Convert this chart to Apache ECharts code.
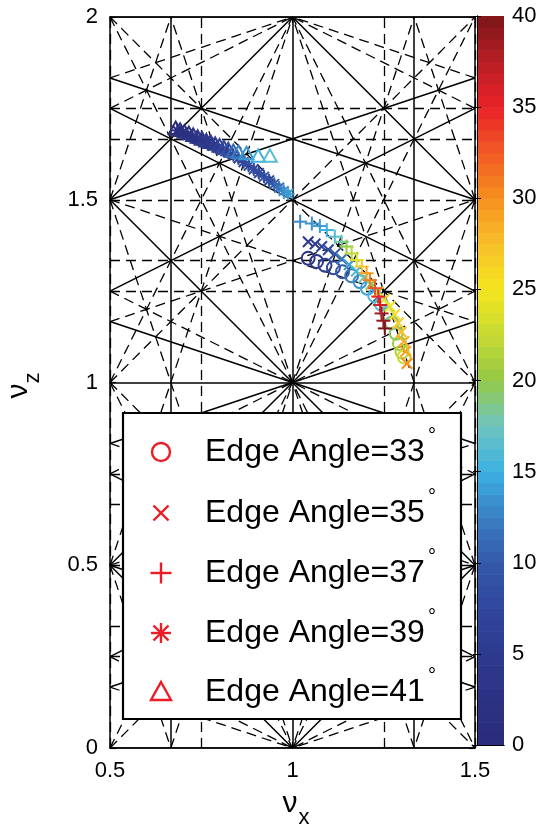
<!DOCTYPE html>
<html>
<head>
<meta charset="utf-8">
<script src="https://cdn.jsdelivr.net/npm/echarts@6/dist/echarts.min.js"></script>
<style>
  html, body { margin: 0; padding: 0; background: #fff; }
  #chart { width: 542px; height: 832px; }
</style>
</head>
<body>
<div id="chart"></div>
<script>
// [nu_x, nu_z, colour value]
const edge33 = [[1.043,1.340,3],[1.066,1.331,4],[1.089,1.321,6],[1.112,1.314,8],[1.137,1.303,10],[1.162,1.292,12],
  [1.185,1.276,13.5],[1.205,1.258,14.5],[1.225,1.238,15.5],[1.243,1.215,16.5],[1.258,1.190,17.5],[1.272,1.163,18.5],
  [1.284,1.135,19.5],[1.293,1.107,20.5],[1.300,1.084,21.5],[1.306,1.070,23]];
const edge35 = [[1.043,1.385,4],[1.062,1.379,5],[1.080,1.372,6.5],[1.098,1.363,8],[1.116,1.352,10],[1.135,1.338,12],
  [1.155,1.322,14],[1.175,1.305,16],[1.195,1.287,18],[1.215,1.268,20],[1.235,1.248,22],[1.252,1.228,23.5],
  [1.267,1.208,24.5],[1.280,1.186,25.5],[1.290,1.163,26.5],[1.298,1.138,27.5],[1.305,1.112,28.5],[1.310,1.085,29],[1.314,1.052,30]];
const edge37 = [[1.021,1.440,13],[1.053,1.435,13.5],[1.075,1.428,14],[1.094,1.417,15],[1.116,1.399,16.5],[1.135,1.385,18],
  [1.148,1.372,20],[1.162,1.353,22],[1.176,1.335,24],[1.190,1.317,27],[1.203,1.299,29],[1.212,1.280,31],
  [1.226,1.258,33],[1.235,1.235,35],[1.240,1.212,36.5],[1.244,1.189,38],[1.249,1.169,39],[1.253,1.148,40]];
const edge39 = [[0.684,1.690,1],[0.698,1.684,1.5],[0.712,1.678,2],[0.726,1.672,2.5],[0.740,1.666,3],[0.754,1.660,3.5],
  [0.768,1.654,4],[0.782,1.648,4.5],[0.796,1.642,5],[0.810,1.636,5.5],[0.824,1.629,6],[0.838,1.622,6.5],
  [0.852,1.613,7],[0.866,1.603,7.5],[0.880,1.593,7.5],[0.894,1.583,8],[0.908,1.573,8],[0.922,1.563,8.5],
  [0.936,1.553,8.5],[0.950,1.543,10],[0.963,1.533,11.5],[0.976,1.524,13],[0.988,1.516,14]];
const edge41 = [[0.680,1.695,1],[0.692,1.690,1.5],[0.704,1.685,2],[0.716,1.681,2.5],[0.728,1.676,3],[0.740,1.671,3.5],
  [0.752,1.666,4],[0.764,1.661,4.5],[0.776,1.657,5],[0.788,1.652,5.5],[0.800,1.647,6.5],[0.812,1.642,7.5],
  [0.824,1.637,9],[0.838,1.632,11],[0.852,1.629,12.5],[0.874,1.626,13.8],[0.906,1.619,15.2],[0.938,1.619,16.5]];

const edgeAngles = [33, 35, 37, 39, 41];
const edgeData = [edge33, edge35, edge37, edge39, edge41];
const markerKinds = ['circle', 'cross', 'plus', 'asterisk', 'triangle'];

const resonanceOrders = [1, 2, 3, 4];
const xRange = [0.5, 1.5];
const zRange = [0, 2];
const colorRange = [0, 40];
const colorLevels = 64;
// jet-like colormap as printed in the figure
const jetColors = ['#2a2c7a', '#2c3282', '#2e3a8e', '#30479c', '#3358a8', '#3a7fc2', '#3cb0e2', '#6ec4c0',
  '#93c847', '#c6d932', '#f4e61f', '#f9c02a', '#f6901e', '#f15a24', '#e92228', '#b81e25', '#7a1517'];

const FONT = '"Liberation Sans", Arial, Helvetica, sans-serif';
const LEGEND_RED = '#ed1c24';

function gcd(a, b) {
  a = Math.abs(a); b = Math.abs(b);
  while (b) { const t = a % b; a = b; b = t; }
  return a;
}

// m*nu_x + n*nu_z = p, clipped to the plot box
function clipLine(m, n, p) {
  const pts = [];
  const eps = 1e-9;
  if (n !== 0) {
    for (const x of xRange) {
      const z = (p - m * x) / n;
      if (z >= zRange[0] - eps && z <= zRange[1] + eps) pts.push([x, z]);
    }
  }
  if (m !== 0) {
    for (const z of zRange) {
      const x = (p - n * z) / m;
      if (x >= xRange[0] - eps && x <= xRange[1] + eps) pts.push([x, z]);
    }
  }
  let best = null, bestD = 1e-6;
  for (let i = 0; i < pts.length; i++) {
    for (let j = i + 1; j < pts.length; j++) {
      const d = Math.hypot(pts[i][0] - pts[j][0], pts[i][1] - pts[j][1]);
      if (d > bestD) { bestD = d; best = [pts[i], pts[j]]; }
    }
  }
  return best;
}

// which resonances are drawn solid in the figure
function isSolid(m, n, p, order) {
  if (order === 1) return true;
  if (m === 1 && Math.abs(n) === 1) return true;
  return m % 2 === 1 && p % 2 === 0 && (n === 0 || m === 1);
}

const solidLines = [];
const dashedLines = [];
const maxOrder = Math.max(...resonanceOrders);
for (let m = 0; m <= maxOrder; m++) {
  for (let n = -maxOrder; n <= maxOrder; n++) {
    const order = m + Math.abs(n);
    if (!resonanceOrders.includes(order)) continue;
    if (m === 0 && n < 0) continue;
    const corners = [];
    for (const x of xRange) for (const z of zRange) corners.push(m * x + n * z);
    for (let p = Math.ceil(Math.min(...corners)); p <= Math.floor(Math.max(...corners)); p++) {
      if (gcd(gcd(m, n), p) !== 1) continue;
      const seg = clipLine(m, n, p);
      if (!seg) continue;
      (isSolid(m, n, p, order) ? solidLines : dashedLines).push({ coords: seg });
    }
  }
}

const colorBands = [];
const step = (colorRange[1] - colorRange[0]) / colorLevels;
for (let i = 0; i < colorLevels; i++) {
  colorBands.push([i * step, (i + 1) * step, (i + 0.5) * step]);
}

function markerShape(kind, cx, cy, s, color, lw, z) {
  const st = () => ({ fill: 'none', stroke: color, lineWidth: lw });
  const el = (o) => { if (z !== undefined) o.z = z; return o; };
  const seg = (x1, y1, x2, y2) => el({ type: 'line', shape: { x1: cx + x1, y1: cy + y1, x2: cx + x2, y2: cy + y2 }, style: st() });
  const d = s * 0.75;
  if (kind === 'circle') return el({ type: 'circle', shape: { cx: cx, cy: cy, r: s }, style: st() });
  if (kind === 'triangle') {
    return el({ type: 'polygon', shape: { points: [[cx, cy - s], [cx + s, cy + s * 0.8], [cx - s, cy + s * 0.8]] }, style: st() });
  }
  if (kind === 'cross') return el({ type: 'group', children: [seg(-d, -d, d, d), seg(-d, d, d, -d)] });
  if (kind === 'plus') return el({ type: 'group', children: [seg(-s, 0, s, 0), seg(0, -s, 0, s)] });
  return el({ type: 'group', children: [seg(-s, 0, s, 0), seg(0, -s, 0, s), seg(-d, -d, d, d), seg(-d, d, d, -d)] });
}

const plotMarkerSize = { circle: 6.5, cross: 7, plus: 7, asterisk: 6.5, triangle: 7 };

const markerSeries = edgeData.map((data, i) => ({
  name: 'Edge Angle=' + edgeAngles[i],
  type: 'custom',
  xAxisIndex: 0,
  yAxisIndex: 0,
  z: 5,
  data: data,
  renderItem: function (params, api) {
    const p = api.coord([api.value(0), api.value(1)]);
    const kind = markerKinds[i];
    return markerShape(kind, p[0], p[1], plotMarkerSize[kind], api.visual('color'), 2);
  }
}));

const colorbarSeries = {
  type: 'custom',
  xAxisIndex: 2,
  yAxisIndex: 2,
  z: 2,
  data: colorBands,
  renderItem: function (params, api) {
    const lo = api.coord([0, api.value(0)]);
    const hi = api.coord([1, api.value(1)]);
    return {
      type: 'rect',
      shape: { x: lo[0], y: hi[1], width: hi[0] - lo[0], height: lo[1] - hi[1] + 0.6 },
      style: { fill: api.visual('color') }
    };
  }
};

// legend box
const legendBox = { x: 123, y: 413, w: 338, h: 306 };
const legendRows = [452, 513, 573, 633, 692];
const legendMarkerSize = { circle: 9, cross: 10, plus: 10.5, asterisk: 10, triangle: 10 };
const legendGraphics = [{
  type: 'rect', z: 20,
  shape: { x: legendBox.x, y: legendBox.y, width: legendBox.w, height: legendBox.h },
  style: { fill: '#fff', stroke: '#000', lineWidth: 2.2 }
}];
edgeAngles.forEach((a, i) => {
  const y = legendRows[i];
  legendGraphics.push(markerShape(markerKinds[i], 161, y, legendMarkerSize[markerKinds[i]], LEGEND_RED, 2.4, 21));
  legendGraphics.push({
    type: 'text', z: 21, x: 205, y: y,
    style: { text: 'Edge Angle=' + a, font: '32px ' + FONT, fill: '#000', align: 'left', verticalAlign: 'middle', textAlign: 'left', textVerticalAlign: 'middle' }
  });
  legendGraphics.push({
    type: 'text', z: 21, x: 432, y: y - 16,
    style: { text: '°', font: '20px ' + FONT, fill: '#000', align: 'center', verticalAlign: 'middle', textAlign: 'center', textVerticalAlign: 'middle' }
  });
});

const axisLabelGraphics = [
  { type: 'text', x: 290, y: 804, style: { text: 'ν', font: '30px ' + FONT, fill: '#000', align: 'center', verticalAlign: 'middle', textAlign: 'center', textVerticalAlign: 'middle' } },
  { type: 'text', x: 304, y: 818, style: { text: 'x', font: '22px ' + FONT, fill: '#000', align: 'center', verticalAlign: 'middle', textAlign: 'center', textVerticalAlign: 'middle' } },
  { type: 'text', x: 19, y: 391, rotation: Math.PI / 2, style: { text: 'ν', font: '30px ' + FONT, fill: '#000', align: 'center', verticalAlign: 'middle', textAlign: 'center', textVerticalAlign: 'middle' } },
  { type: 'text', x: 33, y: 378, rotation: Math.PI / 2, style: { text: 'z', font: '22px ' + FONT, fill: '#000', align: 'center', verticalAlign: 'middle', textAlign: 'center', textVerticalAlign: 'middle' } }
];

const frameLine = { show: true, onZero: false, lineStyle: { color: '#000', width: 1.5 } };
const innerTick = { show: true, inside: true, length: 6, lineStyle: { color: '#000', width: 1.2 } };
const tickLabel = { fontSize: 22, color: '#000', fontFamily: FONT };

const chart = echarts.init(document.getElementById('chart'), null, { renderer: 'canvas' });
chart.setOption({
  animation: false,
  backgroundColor: '#fff',
  grid: [
    { left: 110, top: 17, width: 365, height: 731 },
    { left: 477, top: 16, width: 27, height: 729 }
  ],
  xAxis: [
    { gridIndex: 0, type: 'value', min: xRange[0], max: xRange[1], interval: 0.5, position: 'bottom', z: 10,
      axisLine: frameLine, axisTick: innerTick, axisLabel: Object.assign({ margin: 12 }, tickLabel), splitLine: { show: false } },
    { gridIndex: 0, type: 'value', min: xRange[0], max: xRange[1], interval: 0.5, position: 'top', z: 10,
      axisLine: frameLine, axisTick: innerTick, axisLabel: { show: false }, splitLine: { show: false } },
    { gridIndex: 1, type: 'value', min: 0, max: 1, position: 'bottom', z: 10,
      axisLine: { show: true, lineStyle: { color: '#000', width: 1 } }, axisTick: { show: false }, axisLabel: { show: false }, splitLine: { show: false } },
    { gridIndex: 1, type: 'value', min: 0, max: 1, position: 'top', z: 10,
      axisLine: { show: true, lineStyle: { color: '#000', width: 1 } }, axisTick: { show: false }, axisLabel: { show: false }, splitLine: { show: false } }
  ],
  yAxis: [
    { gridIndex: 0, type: 'value', min: zRange[0], max: zRange[1], interval: 0.5, position: 'left', z: 10,
      axisLine: frameLine, axisTick: innerTick, axisLabel: Object.assign({ margin: 12 }, tickLabel), splitLine: { show: false } },
    { gridIndex: 0, type: 'value', min: zRange[0], max: zRange[1], interval: 0.5, position: 'right', z: 10,
      axisLine: frameLine, axisTick: innerTick, axisLabel: { show: false }, splitLine: { show: false } },
    { gridIndex: 1, type: 'value', min: colorRange[0], max: colorRange[1], interval: 5, position: 'right', z: 10,
      axisLine: { show: true, lineStyle: { color: '#000', width: 1 } },
      axisTick: { show: true, inside: true, length: 4, lineStyle: { color: '#000', width: 1 } },
      axisLabel: Object.assign({ margin: 8 }, tickLabel), splitLine: { show: false } },
    { gridIndex: 1, type: 'value', min: colorRange[0], max: colorRange[1], interval: 5, position: 'left', z: 10,
      axisLine: { show: true, lineStyle: { color: '#000', width: 1 } },
      axisTick: { show: true, inside: true, length: 4, lineStyle: { color: '#000', width: 1 } },
      axisLabel: { show: false }, splitLine: { show: false } }
  ],
  visualMap: {
    type: 'continuous',
    show: false,
    min: colorRange[0],
    max: colorRange[1],
    dimension: 2,
    seriesIndex: [2, 3, 4, 5, 6, 7],
    inRange: { color: jetColors }
  },
  series: [
    { type: 'lines', coordinateSystem: 'cartesian2d', xAxisIndex: 0, yAxisIndex: 0, silent: true, z: 2,
      data: dashedLines, lineStyle: { color: '#000', width: 1.3, opacity: 1, type: [10, 6] } },
    { type: 'lines', coordinateSystem: 'cartesian2d', xAxisIndex: 0, yAxisIndex: 0, silent: true, z: 3,
      data: solidLines, lineStyle: { color: '#000', width: 1.5, opacity: 1, type: 'solid' } }
  ].concat(markerSeries, [colorbarSeries]),
  graphic: legendGraphics.concat(axisLabelGraphics)
});
</script>
</body>
</html>
